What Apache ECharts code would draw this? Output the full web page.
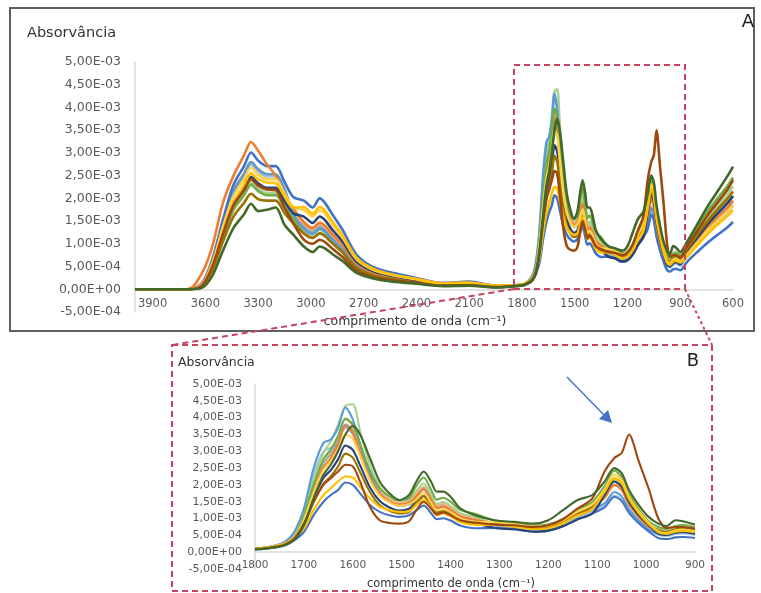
<!DOCTYPE html>
<html><head><meta charset="utf-8">
<script src="https://cdn.jsdelivr.net/npm/echarts@6/dist/echarts.min.js"></script>
<style>html,body{margin:0;padding:0;background:#fff}#c{width:761px;height:593px}</style>
</head><body><div id="c"></div>
<script>
// wavenumbers (cm-1)
const wavenumbers = [4000,3700,3620,3560,3500,3440,3380,3340,3300,3250,3200,3150,3100,3040,2990,2950,2920,2880,2820,2740,2640,2520,2400,2250,2100,1950,1800,1770,1740,1720,1700,1680,1660,1645,1630,1615,1600,1585,1565,1545,1525,1505,1485,1470,1455,1440,1428,1415,1400,1380,1350,1310,1270,1230,1200,1170,1140,1110,1085,1065,1050,1035,1015,995,975,958,940,925,900,860,800,740,680,630,600];
// absorbance values in units of 1E-03
const absBlue = [0,0, 0.12,0.65,1.53,2.3,2.71,3.01,2.83,2.71,2.71,2.36,2.03, 1.95,1.8,2.0,1.9,1.66,1.31,0.76,0.48,0.35,0.25,0.14,0.17,0.08, 0.08,0.12,0.2,0.35, 0.6,1.1,1.5,1.7,1.85,2.07,2.0,1.75,1.4,1.2,1.1,1.05,1.1, 1.24,1.39,1.16,0.98,1.01,0.94,0.79,0.71, 0.72,0.68,0.61,0.64,0.77,0.98,1.15, 1.33,1.64,1.52,1.17,0.86,0.62, 0.42,0.39,0.44,0.45,0.42, 0.61,0.83,1.04,1.22,1.37,1.48];
const absOrange = [0,0, 0.35,0.95,1.9,2.5,2.95,3.24,3.05,2.75,2.5,2.1,1.78, 1.48,1.35,1.47,1.4,1.22,0.97,0.57,0.36,0.26,0.19,0.11,0.13,0.07, 0.09,0.14,0.24,0.45, 1.0,1.84,2.52,2.8,3.2,3.75,3.55,2.95,2.2,1.73,1.52,1.42,1.47, 1.66,1.88,1.57,1.32,1.36,1.26,1.06,0.96, 0.86,0.8,0.72,0.74,0.88,1.12,1.32, 1.62,2.0,1.85,1.42,1.05,0.76, 0.64,0.6,0.67,0.69,0.64, 0.81,1.09,1.38,1.62,1.8,1.95];
const absGray = [0,0, 0.1,0.52,1.24,1.85,2.19,2.42,2.28,2.19,2.19,1.9,1.63, 1.38,1.26,1.38,1.31,1.14,0.9,0.52,0.33,0.24,0.17,0.1,0.11,0.06, 0.1,0.15,0.26,0.46, 1.05,1.93,2.64,2.92,3.3,3.8,3.63,3.08,2.31,1.82,1.6,1.49,1.54, 1.73,1.94,1.63,1.37,1.42,1.31,1.1,1.0, 0.85,0.8,0.72,0.75,0.9,1.15,1.35, 1.62,2.0,1.85,1.43,1.05,0.76, 0.65,0.6,0.68,0.7,0.65, 0.85,1.15,1.45,1.7,1.9,2.05];
const absYellow = [0,0, 0.08,0.5,1.25,1.9,2.3,2.55,2.42,2.35,2.33,2.05,1.8, 1.81,1.66,1.81,1.73,1.5,1.19,0.69,0.44,0.31,0.23,0.13,0.15,0.08, 0.1,0.15,0.25,0.42, 0.7,1.25,1.7,1.9,2.1,2.25,2.22,1.95,1.6,1.35,1.25,1.2,1.22, 1.4,1.57,1.32,1.1,1.15,1.06,0.89,0.81, 0.81,0.76,0.68,0.71,0.86,1.09,1.28, 1.79,2.2,2.05,1.58,1.16,0.84, 0.59,0.54,0.61,0.63,0.59, 0.72,0.98,1.23,1.45,1.62,1.74];
const absLightBlue = [0,0, 0.11,0.6,1.43,2.15,2.53,2.8,2.64,2.53,2.53,2.2,1.65, 1.33,1.22,1.33,1.27,1.1,0.87,0.51,0.32,0.23,0.17,0.09,0.11,0.06, 0.1,0.16,0.3,0.6, 1.3,2.5,3.25,3.35,3.7,4.3,3.95,3.2,2.3,1.75,1.5,1.38,1.42, 1.49,1.67,1.4,1.17,1.22,1.13,0.95,0.86, 0.81,0.76,0.68,0.71,0.86,1.09,1.28, 1.45,1.79,1.66,1.28,0.94,0.68, 0.55,0.51,0.58,0.6,0.55, 0.77,1.04,1.31,1.53,1.71,1.85];
const absGreen = [0,0, 0.06,0.45,1.15,1.75,2.07,2.3,2.16,2.07,2.07,1.8,1.55, 1.23,1.13,1.23,1.17,1.02,0.81,0.47,0.3,0.21,0.15,0.09,0.1,0.05, 0.1,0.14,0.24,0.42, 1.09,2.01,2.76,3.05,3.45,3.97,3.8,3.22,2.42,1.9,1.67,1.55,1.61, 1.98,2.22,1.86,1.56,1.62,1.5,1.26,1.14, 0.94,0.88,0.79,0.83,0.99,1.27,1.49, 1.96,2.42,2.24,1.73,1.27,0.92, 0.75,0.69,0.78,0.81,0.75, 1.02,1.38,1.74,2.04,2.28,2.46];
const absNavy = [0,0, 0.08,0.5,1.26,1.89,2.23,2.47,2.33,2.23,2.23,1.94,1.67, 1.6,1.46,1.6,1.52,1.32,1.05,0.61,0.39,0.28,0.2,0.11,0.13,0.07, 0.09,0.14,0.24,0.42, 0.87,1.61,2.21,2.44,2.76,3.17,3.04,2.58,1.93,1.52,1.33,1.24,1.29, 1.49,1.67,1.4,1.17,1.22,1.13,0.95,0.86, 0.72,0.68,0.61,0.64,0.77,0.98,1.15, 1.7,2.1,1.95,1.5,1.1,0.8, 0.55,0.51,0.58,0.6,0.55, 0.85,1.15,1.45,1.7,1.9,2.05];
const absBrown = [0,0, 0.08,0.5,1.22,1.85,2.18,2.42,2.28,2.2,2.18,1.8,1.45, 1.09,1.0,1.09,1.04,0.9,0.71,0.41,0.26,0.19,0.14,0.08,0.09,0.05, 0.09,0.13,0.22,0.4, 0.85,1.5,2.0,2.2,2.4,2.6,2.55,2.1,1.35,0.95,0.87,0.85,0.92, 1.25,1.5,1.3,1.12,1.18,1.1,0.95,0.88, 0.82,0.8,0.75,0.8,0.98,1.3,1.6, 2.4,2.8,2.95,3.5,2.7,1.9, 1.0,0.72,0.75,0.75,0.7, 0.95,1.3,1.65,1.95,2.2,2.4];
const absDarkGreen = [0,0, 0.03,0.3,0.85,1.35,1.65,1.88,1.72,1.75,1.8,1.42,1.2, 0.94,0.82,0.94,0.9,0.78,0.62,0.36,0.23,0.16,0.12,0.07,0.08,0.04, 0.08,0.12,0.2,0.36, 0.8,1.6,2.3,2.6,3.0,3.5,3.75,3.5,2.8,2.1,1.75,1.55,1.7, 2.1,2.4,2.1,1.8,1.8,1.65,1.3,1.1, 0.95,0.9,0.85,0.95,1.25,1.55,1.7, 2.1,2.5,2.35,1.85,1.4,1.05, 0.85,0.78,0.95,0.92,0.82, 1.05,1.45,1.85,2.2,2.5,2.7];
const absLightGreen = [0,0, 0.08,0.5,1.2,1.8,2.12,2.35,2.21,2.12,2.12,1.84,1.58, 1.31,1.2,1.31,1.24,1.08,0.86,0.5,0.32,0.23,0.16,0.09,0.11,0.05, 0.1,0.15,0.26,0.45, 1.15,2.15,2.95,3.3,3.8,4.35,4.4,3.6,2.6,1.95,1.65,1.52,1.58, 1.82,2.04,1.7,1.43,1.49,1.38,1.16,1.05, 0.85,0.8,0.72,0.75,0.9,1.15,1.35, 1.7,2.12,1.95,1.5,1.1,0.8, 0.68,0.63,0.71,0.74,0.68, 0.94,1.27,1.6,1.87,2.09,2.26];
const absLightOrange = [0,0, 0.15,0.68,1.5,2.2,2.55,2.8,2.64,2.53,2.5,2.18,1.7, 1.45,1.33,1.45,1.38,1.2,0.95,0.55,0.35,0.25,0.18,0.1,0.12,0.06, 0.1,0.15,0.25,0.45, 1.09,2.01,2.76,3.05,3.45,3.95,3.75,3.1,2.3,1.8,1.6,1.48,1.52, 1.73,1.94,1.63,1.37,1.42,1.31,1.1,1.0, 0.81,0.76,0.68,0.71,0.86,1.09,1.28, 1.62,2.0,1.85,1.43,1.05,0.76, 0.62,0.57,0.65,0.67,0.62, 0.89,1.21,1.52,1.79,2.0,2.15];
const absGold = [0,0, 0.1,0.58,1.37,2.05,2.42,2.68,2.52,2.42,2.42,2.1,1.81, 1.74,1.6,1.74,1.66,1.44,1.14,0.66,0.42,0.3,0.22,0.12,0.14,0.07, 0.1,0.15,0.25,0.44, 0.97,1.78,2.45,2.7,3.06,3.5,3.37,2.86,2.14,1.68,1.48,1.38,1.43, 1.57,1.76,1.47,1.24,1.28,1.19,1.0,0.9, 0.89,0.84,0.76,0.79,0.95,1.21,1.42, 1.87,2.31,2.15,1.65,1.21,0.88, 0.62,0.57,0.65,0.67,0.62, 0.77,1.04,1.31,1.53,1.71,1.85];
const absPaleBlue = [0,0, 0.11,0.59,1.4,2.1,2.48,2.75,2.59,2.48,2.48,2.16,1.68, 1.41,1.29,1.41,1.34,1.16,0.92,0.53,0.34,0.24,0.17,0.1,0.12,0.06, 0.1,0.16,0.28,0.55, 1.2,2.3,3.0,3.1,3.3,3.7,3.5,2.9,2.15,1.7,1.48,1.38,1.42, 1.65,1.85,1.55,1.3,1.35,1.25,1.05,0.95, 0.77,0.72,0.65,0.68,0.81,1.04,1.22, 1.36,1.68,1.56,1.2,0.88,0.64, 0.52,0.48,0.54,0.56,0.52, 0.81,1.09,1.38,1.62,1.8,1.95];
const absOlive = [0,0, 0.05,0.42,1.05,1.6,1.9,2.1,1.98,1.95,1.95,1.68,1.45, 1.23,1.13,1.23,1.17,1.02,0.81,0.47,0.3,0.21,0.15,0.09,0.1,0.05, 0.09,0.14,0.24,0.42, 0.81,1.49,2.04,2.25,2.55,2.93,2.81,2.38,1.79,1.4,1.23,1.15,1.19, 1.49,1.67,1.4,1.17,1.22,1.13,0.95,0.86, 0.85,0.8,0.72,0.75,0.9,1.15,1.35, 1.79,2.2,2.05,1.58,1.16,0.84, 0.65,0.6,0.68,0.7,0.65, 0.89,1.21,1.52,1.79,2.0,2.15];

const xTicksA = [3900,3600,3300,3000,2700,2400,2100,1800,1500,1200,900,600];
const xTicksB = [1800,1700,1600,1500,1400,1300,1200,1100,1000,900];
const yTickLabels = ['-5,00E-04','0,00E+00','5,00E-04','1,00E-03','1,50E-03','2,00E-03','2,50E-03','3,00E-03','3,50E-03','4,00E-03','4,50E-03','5,00E-03'];
const yTitle = 'Absorvância';
const xTitle = 'comprimento de onda (cm⁻¹)';

const spectra = [
  ['#9DC3E6', absPaleBlue], ['#A5A5A5', absGray], ['#F4B183', absLightOrange], ['#A9D18E', absLightGreen],
  ['#5B9BD5', absLightBlue], ['#4472C4', absBlue], ['#ED7D31', absOrange], ['#70AD47', absGreen],
  ['#264478', absNavy], ['#997300', absOlive], ['#FFD24D', absGold], ['#FFC000', absYellow],
  ['#9E480E', absBrown], ['#43682B', absDarkGreen]
];

const F = 'DejaVu Sans';
const yFmt = v => yTickLabels[Math.round((v + 0.5) / 0.5)] || '';
const series = [];
spectra.forEach(([color, vals]) => {
  series.push({type:'line', xAxisIndex:0, yAxisIndex:0, showSymbol:false, silent:true, smooth:0.3,
    lineStyle:{color, width:2.6}, data: wavenumbers.map((w,i)=>[w, vals[i]])});
  series.push({type:'line', xAxisIndex:1, yAxisIndex:1, showSymbol:false, silent:true, smooth:0.3,
    lineStyle:{color, width:2.1}, data: wavenumbers.map((w,i)=>[w, vals[i]]).filter(p=>p[0]<=1800 && p[0]>=900)});
});

const axisCommon = {axisTick:{show:false}, splitLine:{show:false}};
const red = '#C8415F';
const chart = echarts.init(document.getElementById('c'));
chart.setOption({
  backgroundColor:'#fff',
  animation:false,
  grid:[{left:135, top:62, width:598, height:250}, {left:255, top:384, width:440, height:185}],
  xAxis:[
    Object.assign({gridIndex:0, type:'value', min:600, max:4000, interval:300, inverse:true,
      position:'bottom', offset:-250/11,
      axisLine:{onZero:false, lineStyle:{color:'#d9d9d9', width:1.5}},
      axisLabel:{margin:9, color:'#595959', fontSize:11.5, fontFamily:F, showMaxLabel:false,
        formatter:v=>xTicksA.includes(v)?String(v):''}}, axisCommon),
    Object.assign({gridIndex:1, type:'value', min:900, max:1800, interval:100, inverse:true,
      position:'bottom', offset:-185/11,
      axisLine:{onZero:false, lineStyle:{color:'#d9d9d9', width:1.5}},
      axisLabel:{margin:8, color:'#595959', fontSize:10.5, fontFamily:F,
        formatter:v=>xTicksB.includes(v)?String(v):''}}, axisCommon)
  ],
  yAxis:[
    Object.assign({gridIndex:0, type:'value', min:-0.5, max:5, interval:0.5,
      axisLine:{show:true, onZero:false, lineStyle:{color:'#d9d9d9', width:1.5}},
      axisLabel:{margin:14, color:'#595959', fontSize:12.5, fontFamily:F, formatter:yFmt}}, axisCommon),
    Object.assign({gridIndex:1, type:'value', min:-0.5, max:5, interval:0.5,
      axisLine:{show:true, onZero:false, lineStyle:{color:'#d9d9d9', width:1.5}},
      axisLabel:{margin:13, color:'#595959', fontSize:11, fontFamily:F, formatter:yFmt}}, axisCommon)
  ],
  series,
  graphic:[
    {type:'rect', z:0, shape:{x:10, y:8, width:744, height:323}, style:{fill:'none', stroke:'#5f5f5f', lineWidth:2}},
    {type:'text', z:10, style:{x:27, y:33, text:yTitle, font:'14.5px "DejaVu Sans"', fill:'#333', textVerticalAlign:'middle', verticalAlign:'middle'}},
    {type:'text', z:10, style:{x:748, y:22, text:'A', font:'18px "DejaVu Sans"', fill:'#222', textAlign:'center', align:'center', textVerticalAlign:'middle', verticalAlign:'middle'}},
    {type:'text', z:10, style:{x:415, y:322, text:xTitle, font:'12.5px "DejaVu Sans"', fill:'#333', textAlign:'center', align:'center', textVerticalAlign:'middle', verticalAlign:'middle'}},
    {type:'rect', z:20, shape:{x:514, y:65, width:171, height:224}, style:{fill:'none', stroke:red, lineWidth:2, lineDash:[6,4]}},
    {type:'line', z:20, shape:{x1:514, y1:289, x2:172, y2:345}, style:{stroke:red, lineWidth:2, lineDash:[6,4]}},
    {type:'line', z:20, shape:{x1:685, y1:289, x2:712, y2:345}, style:{stroke:red, lineWidth:2, lineDash:[3,3]}},
    {type:'rect', z:20, shape:{x:172, y:345, width:540, height:246}, style:{fill:'none', stroke:red, lineWidth:2, lineDash:[6,4]}},
    {type:'text', z:10, style:{x:178, y:363, text:yTitle, font:'12.5px "DejaVu Sans"', fill:'#333', textVerticalAlign:'middle', verticalAlign:'middle'}},
    {type:'text', z:10, style:{x:693, y:361, text:'B', font:'18px "DejaVu Sans"', fill:'#222', textAlign:'center', align:'center', textVerticalAlign:'middle', verticalAlign:'middle'}},
    {type:'text', z:10, style:{x:451, y:584, text:xTitle, font:'11.5px "DejaVu Sans"', fill:'#333', textAlign:'center', align:'center', textVerticalAlign:'middle', verticalAlign:'middle'}},
    {type:'line', z:30, shape:{x1:567, y1:377, x2:604, y2:415}, style:{stroke:'#4472C4', lineWidth:1.4}},
    {type:'polygon', z:30, shape:{points:[[612,423],[599,419],[608,410]]}, style:{fill:'#4472C4'}}
  ]
});
</script></body></html>
